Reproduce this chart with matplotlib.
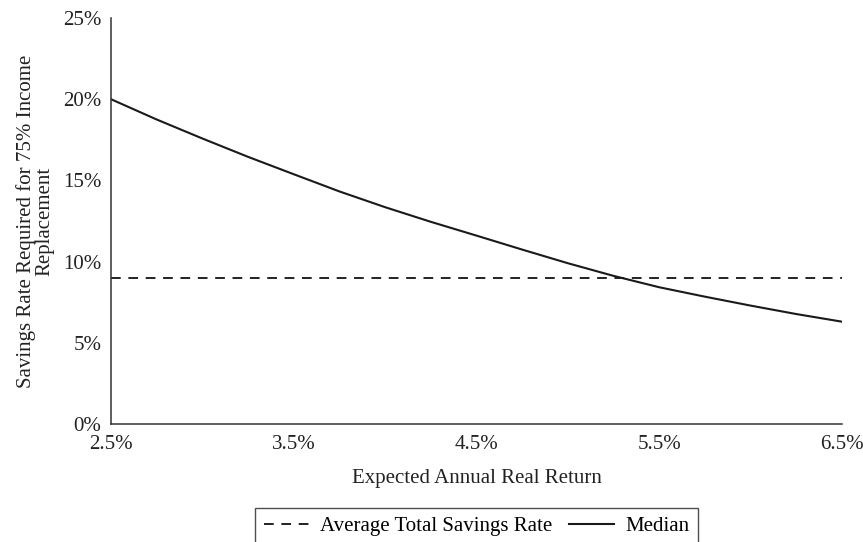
import matplotlib
matplotlib.use("Agg")
import matplotlib.pyplot as plt
from matplotlib.ticker import FuncFormatter

plt.rcParams['font.family'] = ['Liberation Serif', 'DejaVu Serif']
plt.rcParams['lines.scale_dashes'] = False

# expected annual real return (%) and required savings rate (%)
real_return = [2.5, 2.75, 3.0, 3.25, 3.5, 3.75, 4.0, 4.25, 4.5, 4.75,
               5.0, 5.25, 5.5, 5.75, 6.0, 6.25, 6.5]
median_rate = [20.0, 18.75, 17.58, 16.45, 15.38, 14.32, 13.35, 12.45, 11.6, 10.74,
               9.9, 9.12, 8.42, 7.84, 7.29, 6.77, 6.3]
avg_total_rate = [9.0] * len(real_return)

x_ticks = [2.5, 3.5, 4.5, 5.5, 6.5]
y_ticks = [0, 5, 10, 15, 20, 25]

FS = 15

fig = plt.figure(figsize=(8.63, 5.42), dpi=100)
ax = fig.add_axes([0.1286, 0.2177, 0.8471, 0.7491])

ax.plot(real_return, avg_total_rate, color="#222222", lw=1.4,
        dashes=(7, 5.5), label="Average Total Savings Rate")
ax.plot(real_return, median_rate, color="#1a1a1a", lw=1.5, label="Median")

ax.set_xlim(2.5, 6.5)
ax.set_ylim(0, 25)
ax.set_xticks(x_ticks)
ax.set_yticks(y_ticks)
ax.xaxis.set_major_formatter(FuncFormatter(lambda v, p: f"{v:.1f}%"))
ax.yaxis.set_major_formatter(FuncFormatter(lambda v, p: f"{v:.0f}%"))
ax.tick_params(length=0, labelsize=FS, colors="#222222")
ax.tick_params(axis="x", pad=8)
ax.tick_params(axis="y", pad=7)
for s in ("top", "right"):
    ax.spines[s].set_visible(False)
for s in ("left", "bottom"):
    ax.spines[s].set_color("#333333")
    ax.spines[s].set_linewidth(1.1)

ax.set_xlabel("Expected Annual Real Return", fontsize=FS, labelpad=11, color="#222222")
ax.set_ylabel("Savings Rate Required for 75% Income\nReplacement", fontsize=FS,
              labelpad=6, color="#222222", linespacing=1.0)

leg = ax.legend(loc="upper center", bbox_to_anchor=(0.5, -0.207), ncol=2,
                frameon=True, fancybox=False, fontsize=FS, handlelength=2.15,
                columnspacing=0.8, borderpad=0.42, handletextpad=0.55,
                borderaxespad=0)
leg.get_frame().set_edgecolor("#222222")
leg.get_frame().set_linewidth(1.0)

fig.savefig("out.png", dpi=100)
